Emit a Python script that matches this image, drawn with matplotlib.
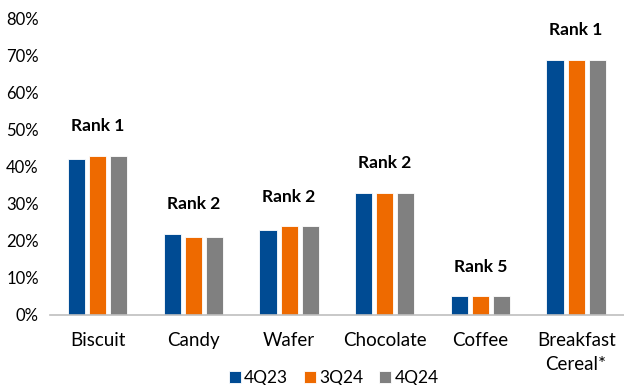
import numpy as np
import matplotlib.pyplot as plt
from matplotlib.ticker import PercentFormatter

plt.rcParams['font.family'] = ['Lato', 'DejaVu Sans']

categories = ['Biscuit', 'Candy', 'Wafer', 'Chocolate', 'Coffee', 'Breakfast\nCereal*']
periods = ['4Q23', '3Q24', '4Q24']
share_4q23 = [42, 22, 23, 33, 5, 69]
share_3q24 = [43, 21, 24, 33, 5, 69]
share_4q24 = [43, 21, 24, 33, 5, 69]
ranks = ['Rank 1', 'Rank 2', 'Rank 2', 'Rank 2', 'Rank 5', 'Rank 1']

colors = ['#004B93', '#EE6A00', '#808080']
series = [share_4q23, share_3q24, share_4q24]

fig = plt.figure(figsize=(6.24, 3.85), dpi=100)
ax = fig.add_axes([0.080, 0.182, 0.920, 0.769])

x = np.arange(len(categories))
slot = 0.22
bar_w = 0.18
for i, (vals, col, lab) in enumerate(zip(series, colors, periods)):
    ax.bar(x + (i - 1) * slot, np.array(vals) / 100, width=bar_w, color=col,
           edgecolor='white', linewidth=0.6, label=lab, zorder=2)

# rank tag above each group
tops = np.max(series, axis=0) / 100
for xi, top, r in zip(x, tops, ranks):
    ax.text(xi, top + 0.08, r, ha='center', va='center',
            fontsize=12.5, fontweight='bold', color='black')

ax.set_xlim(-0.5, len(categories) - 0.5)
ax.set_ylim(0, 0.8)
ax.set_yticks(np.arange(0, 0.81, 0.1))
ax.yaxis.set_major_formatter(PercentFormatter(1.0, decimals=0))
ax.set_xticks(x)
ax.set_xticklabels(categories, fontsize=13.5, linespacing=1.55)
ax.tick_params(axis='both', length=0, colors='black')
ax.tick_params(axis='y', labelsize=12, pad=8)
ax.tick_params(axis='x', pad=12)

for s in ['top', 'right', 'left']:
    ax.spines[s].set_visible(False)
ax.spines['bottom'].set_color('#BFBFBF')
ax.spines['bottom'].set_linewidth(1.2)

handles, labels = ax.get_legend_handles_labels()
fig.legend(handles, labels, loc='lower center', bbox_to_anchor=(0.535, -0.03),
           ncol=3, frameon=False, fontsize=12.5, handlelength=0.7, handleheight=0.7,
           handletextpad=0.2, columnspacing=0.9, borderpad=0.1)

fig.savefig('out.png', dpi=100)
